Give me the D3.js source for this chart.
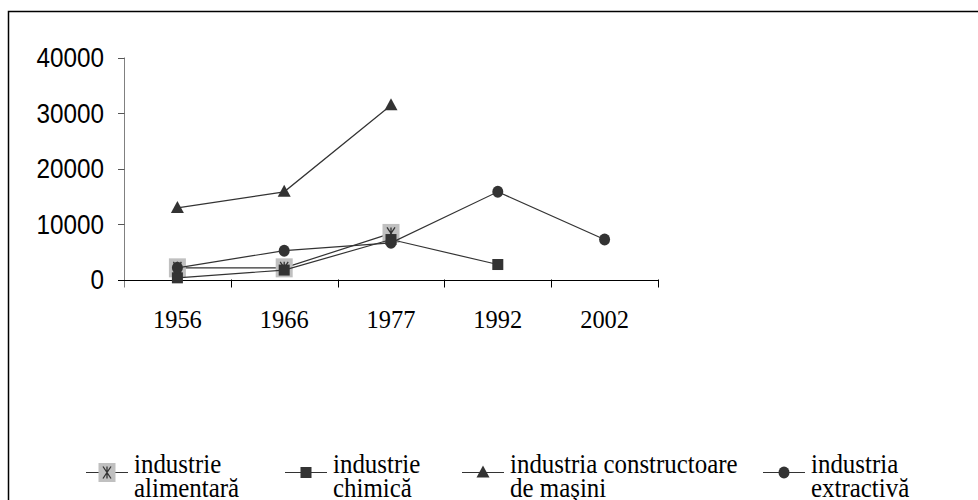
<!DOCTYPE html>
<html>
<head>
<meta charset="utf-8">
<script src="https://cdn.jsdelivr.net/npm/d3@7"></script>
<style>
  body { margin: 0; background: #fff; }
  svg { display: block; }
</style>
</head>
<body>
<svg id="chart" width="978" height="500"></svg>
<script>
// ---------------------------
// Producţia industrială pe ramuri - line chart
// ---------------------------

const years = ["1956", "1966", "1977", "1992", "2002"];
const yTicks = [0, 10000, 20000, 30000, 40000];

// values per series (null = no point)
const alimentara    = [2100, 2100, 8300, null, null];
const chimica       = [300, 1700, 7200, 2700, null];
const constructoare = [12900, 15800, 31400, null, null];
const extractiva    = [2100, 5200, 6600, 15800, 7200];

const seriesNames = [
    ["industrie", "alimentară"],
    ["industrie", "chimică"],
    ["industria constructoare", "de maşini"],
    ["industria", "extractivă"]
];
const seriesValues = [alimentara, chimica, constructoare, extractiva];
const seriesMarks = ["star", "square", "triangle", "circle"];

const dark = "#333";
const svg = d3.select("#chart");

// frame round the chart area
svg.append("rect")
    .attr("x", 8.5).attr("y", 11.5)
    .attr("width", 1000).attr("height", 600)
    .attr("fill", "none").attr("stroke", "#000").attr("stroke-width", 1.5);

// scales
const x = d3.scaleBand().domain(years).range([124, 658]).padding(0);
const y = d3.scaleLinear().domain([0, 40000]).range([279.5, 57.5]);

// y axis (gray line, ticks outward)
const yAxis = svg.append("g");
yAxis.append("line")
    .attr("x1", 124.5).attr("x2", 124.5)
    .attr("y1", y(40000)).attr("y2", y(0) + 8)
    .attr("stroke", "#808080");
yAxis.selectAll("line.tick").data(yTicks).enter().append("line")
    .attr("class", "tick")
    .attr("x1", 118).attr("x2", 124.5)
    .attr("y1", d => Math.round(y(d)) + 0.5).attr("y2", d => Math.round(y(d)) + 0.5)
    .attr("stroke", d => d === 0 ? "#000" : "#555");
yAxis.selectAll("text").data(yTicks).enter().append("text")
    .attr("transform", d => `translate(104,${y(d) + 9.5}) scale(0.9,1)`)
    .attr("text-anchor", "end")
    .style("font-family", "'Liberation Sans', Arial, sans-serif")
    .style("font-size", "27px")
    .attr("fill", "#000")
    .text(d => d);

// x axis (black line, ticks between categories)
const xAxis = svg.append("g");
xAxis.append("line")
    .attr("x1", 118).attr("x2", 658)
    .attr("y1", Math.round(y(0)) + 0.5).attr("y2", Math.round(y(0)) + 0.5)
    .attr("stroke", "#000");
xAxis.selectAll("line.tick").data(years.slice(1).concat(["end"])).enter().append("line")
    .attr("class", "tick")
    .attr("x1", (d, i) => Math.round(x(years[i]) + x.bandwidth()) + 0.5)
    .attr("x2", (d, i) => Math.round(x(years[i]) + x.bandwidth()) + 0.5)
    .attr("y1", y(0)).attr("y2", y(0) + 8)
    .attr("stroke", "#000");
xAxis.selectAll("text").data(years).enter().append("text")
    .attr("transform", d => `translate(${x(d) + x.bandwidth() / 2},328) scale(0.94,1)`)
    .attr("text-anchor", "middle")
    .style("font-family", "'Liberation Serif', 'Times New Roman', serif")
    .style("font-size", "26px")
    .attr("fill", "#000")
    .text(d => d);

// marker drawing
function drawMarker(g, type, cx, cy) {
    if (type === "star") {
        g.append("rect")
            .attr("x", cx - 8.5).attr("y", cy - 9.5)
            .attr("width", 17).attr("height", 19)
            .attr("fill", "#c0c0c0");
        g.append("path")
            .attr("d", `M${cx - 4},${cy - 6}L${cx + 4},${cy + 6}M${cx + 4},${cy - 6}L${cx - 4},${cy + 6}M${cx},${cy - 6}L${cx},${cy + 6}`)
            .attr("stroke", dark).attr("stroke-width", 1.3).attr("fill", "none");
    } else if (type === "square") {
        g.append("rect")
            .attr("x", cx - 5.5).attr("y", cy - 5.5)
            .attr("width", 11).attr("height", 11)
            .attr("fill", dark);
    } else if (type === "triangle") {
        g.append("path")
            .attr("d", `M${cx},${cy - 7}L${cx + 6.5},${cy + 5}L${cx - 6.5},${cy + 5}Z`)
            .attr("fill", dark);
    } else {
        g.append("ellipse")
            .attr("cx", cx).attr("cy", cy)
            .attr("rx", 5.5).attr("ry", 6)
            .attr("fill", dark);
    }
}

// series lines + markers
const line = d3.line()
    .defined(d => d.v !== null)
    .x(d => x(d.year) + x.bandwidth() / 2)
    .y(d => y(d.v));

seriesValues.forEach((vals, si) => {
    const pts = years.map((yr, i) => ({ year: yr, v: vals[i] }));
    const g = svg.append("g");
    g.append("path")
        .attr("d", line(pts))
        .attr("fill", "none")
        .attr("stroke", dark)
        .attr("stroke-width", 1.2);
    pts.filter(p => p.v !== null).forEach(p => {
        drawMarker(g, seriesMarks[si], x(p.year) + x.bandwidth() / 2, y(p.v));
    });
});

// legend
const legendX = [86, 285, 462, 763];
const legend = svg.append("g");
seriesNames.forEach((names, i) => {
    const g = legend.append("g");
    const lx = legendX[i];
    const ly = 472.5;
    g.append("line")
        .attr("x1", lx).attr("x2", lx + 42)
        .attr("y1", ly).attr("y2", ly)
        .attr("stroke", dark).attr("stroke-width", 1.2);
    drawMarker(g, seriesMarks[i], lx + 21, ly);
    names.forEach((t, j) => {
        g.append("text")
            .attr("transform", `translate(${lx + 48},${473 + j * 24}) scale(0.89,1)`)
            .style("font-family", "'Liberation Serif', 'Times New Roman', serif")
            .style("font-size", "28px")
            .attr("fill", "#000")
            .text(t);
    });
});
</script>
</body>
</html>
